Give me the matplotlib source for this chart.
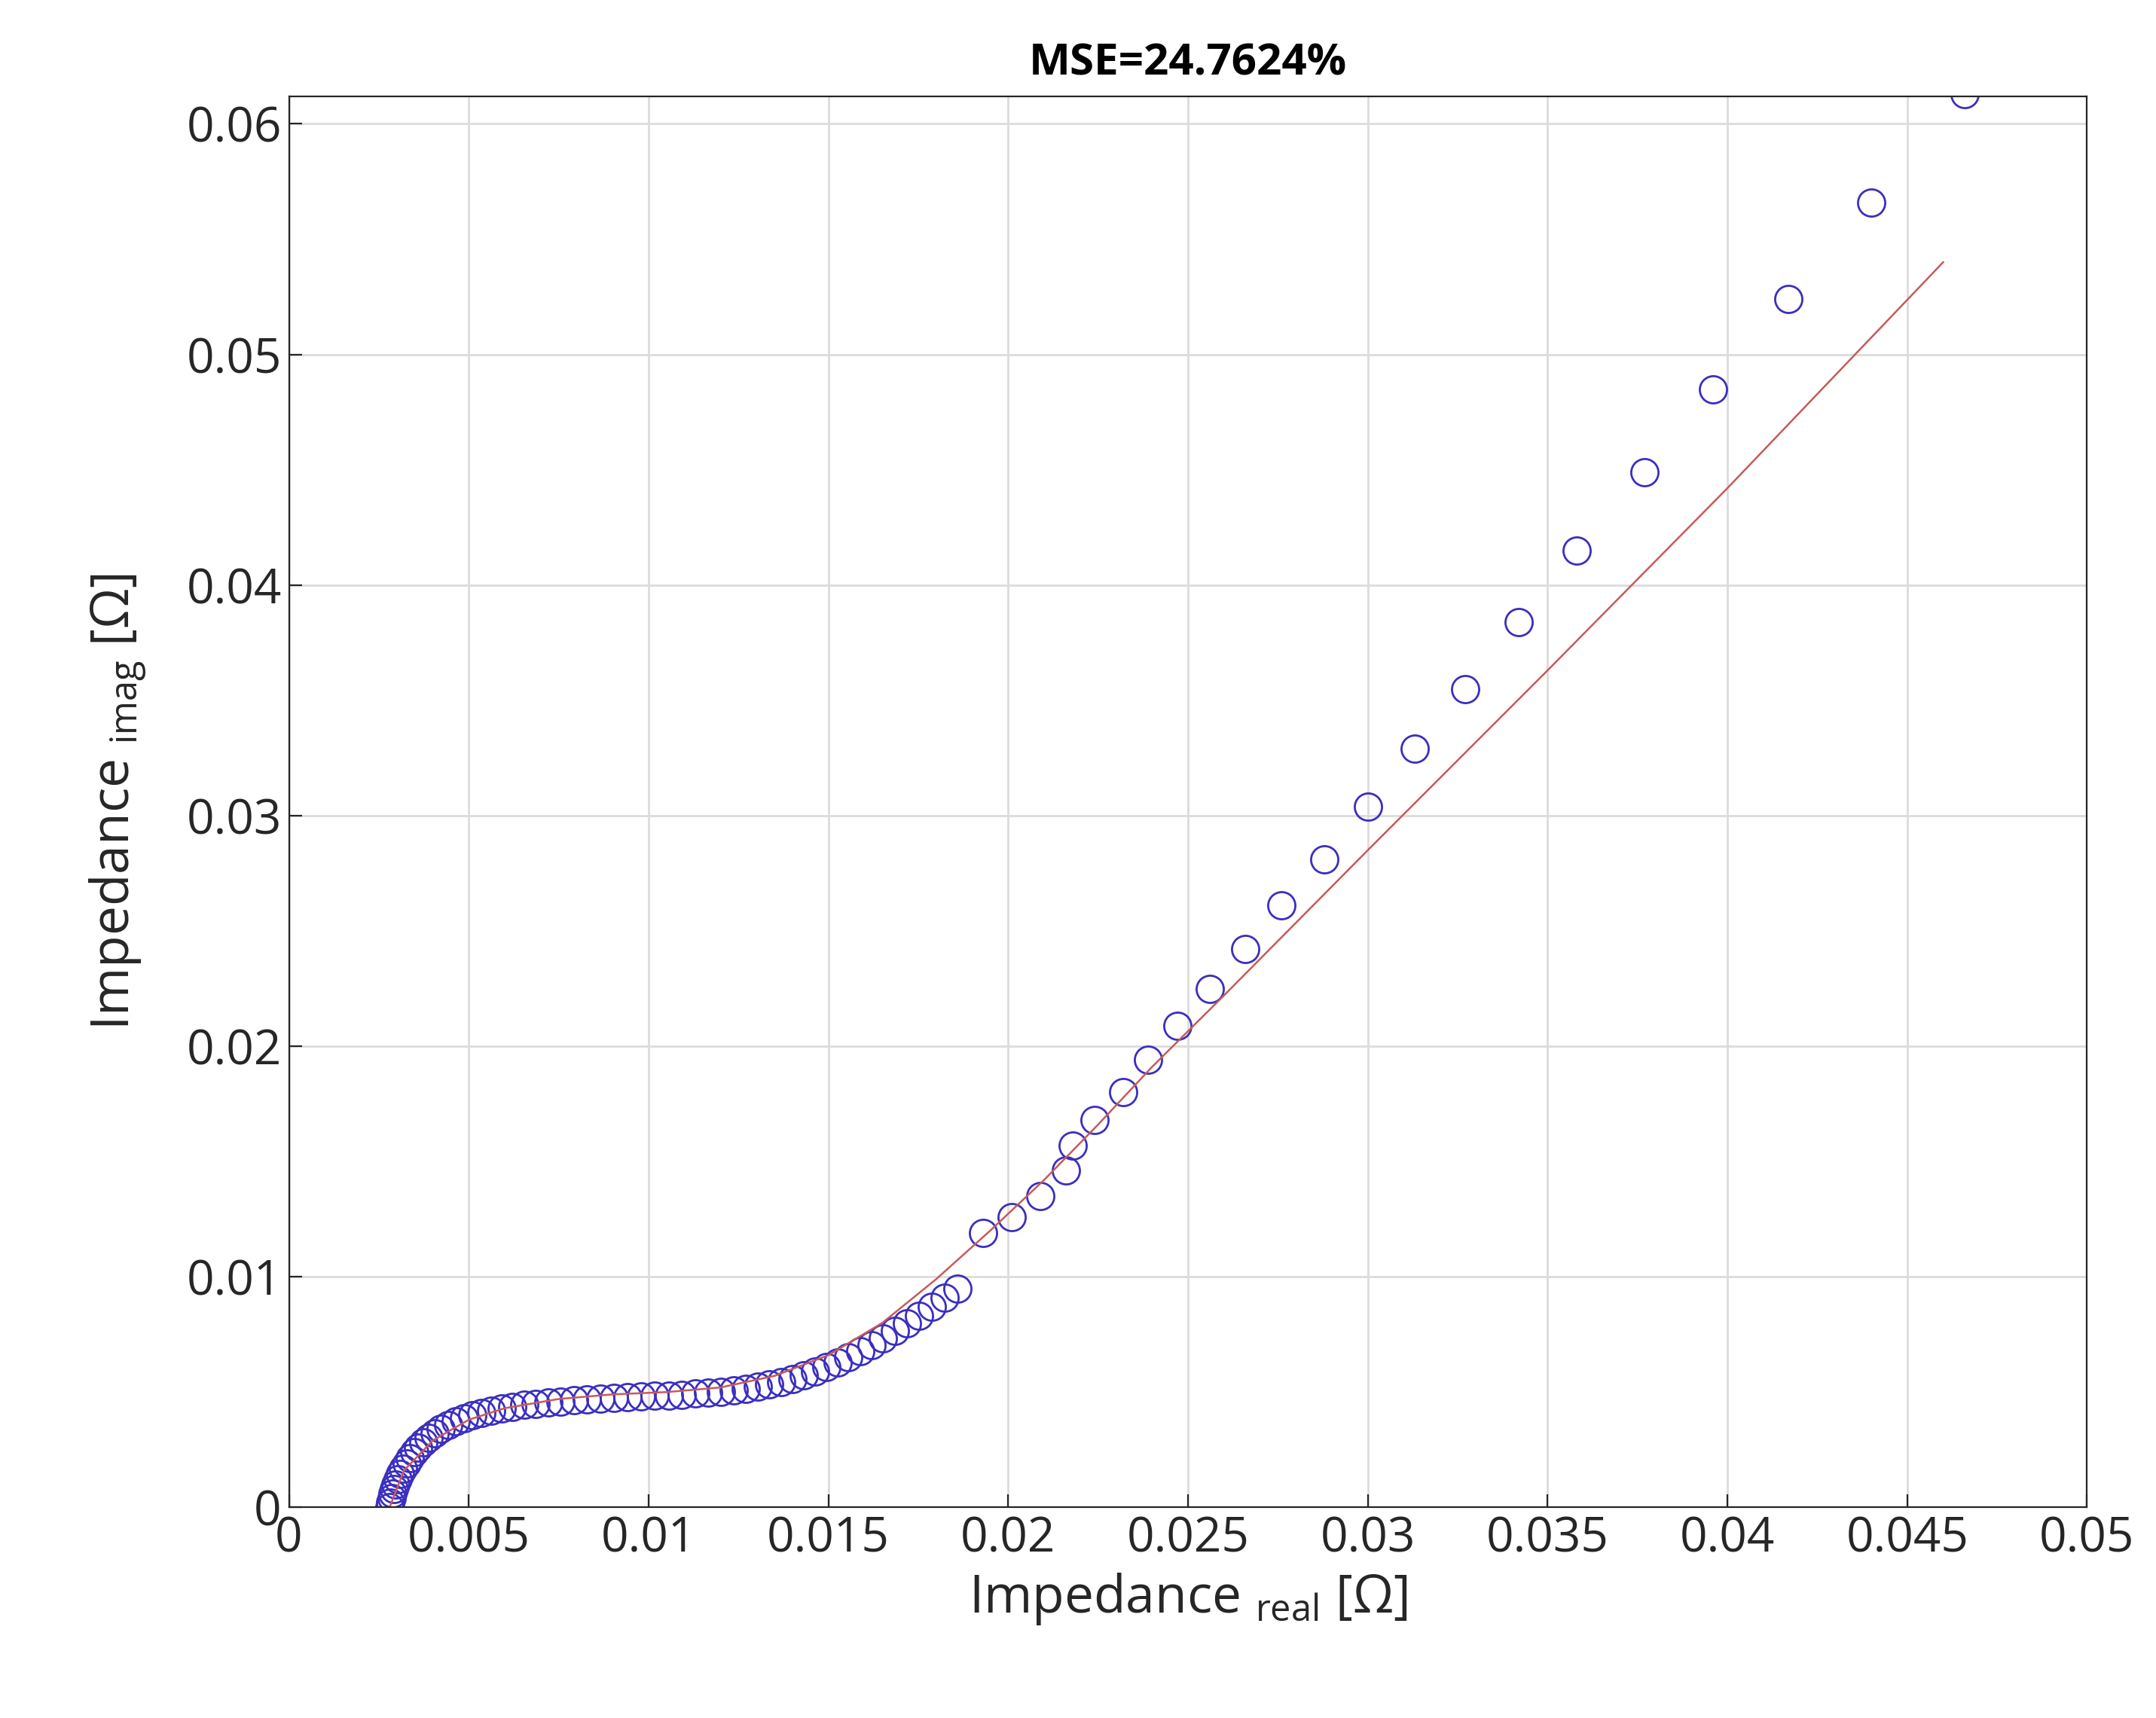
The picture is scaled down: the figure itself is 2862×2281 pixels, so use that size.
import matplotlib
matplotlib.use("Agg")
import matplotlib.pyplot as plt

# measured impedance (circles), dense at low frequency end
z_real = [0.00280, 0.00282, 0.00285, 0.00288, 0.00292, 0.00297, 0.00303, 0.00310, 0.00318, 0.00327,
          0.00337, 0.00348, 0.00360, 0.00374, 0.00389, 0.00405, 0.00423, 0.00442, 0.00463, 0.00486,
          0.00510, 0.00536, 0.00563, 0.00592, 0.00622, 0.00654, 0.00687, 0.00721, 0.00756, 0.00792,
          0.00829, 0.00866, 0.00904, 0.00942, 0.00980, 0.01018, 0.01056, 0.01093, 0.01130, 0.01166,
          0.01201, 0.01236, 0.01270, 0.01303, 0.01336, 0.01368, 0.01400, 0.01432, 0.01463, 0.01494,
          0.01525, 0.01556, 0.01588, 0.01620, 0.01652, 0.01685, 0.01718, 0.01752, 0.01787, 0.01823,
          0.01860, 0.01930, 0.02010, 0.02090, 0.02160, 0.02180, 0.02240, 0.02320, 0.02390, 0.02470,
          0.02560, 0.02660, 0.02760, 0.02880, 0.03000, 0.03130, 0.03270, 0.03420, 0.03580, 0.03770,
          0.03960, 0.04170, 0.04400, 0.04660]
z_imag = [0.00000, 0.00020, 0.00040, 0.00060, 0.00080, 0.00100, 0.00122, 0.00145, 0.00168, 0.00192,
          0.00215, 0.00238, 0.00260, 0.00282, 0.00302, 0.00322, 0.00340, 0.00357, 0.00372, 0.00386,
          0.00399, 0.00410, 0.00420, 0.00429, 0.00437, 0.00444, 0.00450, 0.00455, 0.00460, 0.00464,
          0.00468, 0.00471, 0.00474, 0.00477, 0.00480, 0.00483, 0.00486, 0.00489, 0.00493, 0.00497,
          0.00502, 0.00508, 0.00515, 0.00523, 0.00533, 0.00544, 0.00557, 0.00572, 0.00589, 0.00608,
          0.00629, 0.00652, 0.00677, 0.00704, 0.00733, 0.00764, 0.00797, 0.00832, 0.00869, 0.00908,
          0.00950, 0.01190, 0.01260, 0.01350, 0.01460, 0.01570, 0.01680, 0.01800, 0.01940, 0.02090,
          0.02250, 0.02420, 0.02610, 0.02810, 0.03040, 0.03290, 0.03550, 0.03840, 0.04150, 0.04490,
          0.04850, 0.05240, 0.05660, 0.06130]

# model fit (red line)
fit_real = [0.0028, 0.0032, 0.0040, 0.0050, 0.0060, 0.0075, 0.0090, 0.0105, 0.0120, 0.0135,
            0.0150, 0.0165, 0.0180, 0.0195, 0.0210, 0.0225, 0.0240, 0.0260, 0.0300, 0.0350,
            0.0400, 0.0460]
fit_imag = [0.0000, 0.0016, 0.0029, 0.0038, 0.0043, 0.0047, 0.0049, 0.0050, 0.0052, 0.0057,
            0.0066, 0.0080, 0.0099, 0.0120, 0.0142, 0.0166, 0.0191, 0.0222, 0.0285, 0.0363,
            0.0442, 0.0540]

plt.rcParams['font.family'] = ['Open Sans', 'DejaVu Sans']

fig = plt.figure(figsize=(14.31, 11.405), dpi=200)
ax = fig.add_axes([0.134, 0.1226, 0.834, 0.8214])

ax.plot(z_real, z_imag, "o", mfc="none", mec="#3a2fc0", ms=13, mew=1.0)
ax.plot(fit_real, fit_imag, "-", color="#c85a5a", lw=0.9)

ax.set_xlim(0, 0.05)
ax.set_ylim(0, 0.0612)
ax.set_xticks([0, 0.005, 0.01, 0.015, 0.02, 0.025, 0.03, 0.035, 0.04, 0.045, 0.05])
ax.set_xticklabels(["0", "0.005", "0.01", "0.015", "0.02", "0.025", "0.03", "0.035",
                    "0.04", "0.045", "0.05"])
ax.set_yticks([0, 0.01, 0.02, 0.03, 0.04, 0.05, 0.06])
ax.set_yticklabels(["0", "0.01", "0.02", "0.03", "0.04", "0.05", "0.06"])
ax.tick_params(direction="in", labelsize=23, length=6, colors="#262626")
ax.grid(True, color="#dcdcdc", lw=1.0)
ax.set_axisbelow(True)
for s in ax.spines.values():
    s.set_color("#262626")

ax.set_xlabel(r"Impedance $_{\mathregular{real}}$ [Ω]", fontsize=25, color="#262626")
ax.set_ylabel(r"Impedance $_{\mathregular{imag}}$ [Ω]", fontsize=25, color="#262626",
              labelpad=18)
ax.set_title("MSE=24.7624%", fontsize=21, fontweight="bold", pad=10)

fig.savefig("out.png", dpi=200)
